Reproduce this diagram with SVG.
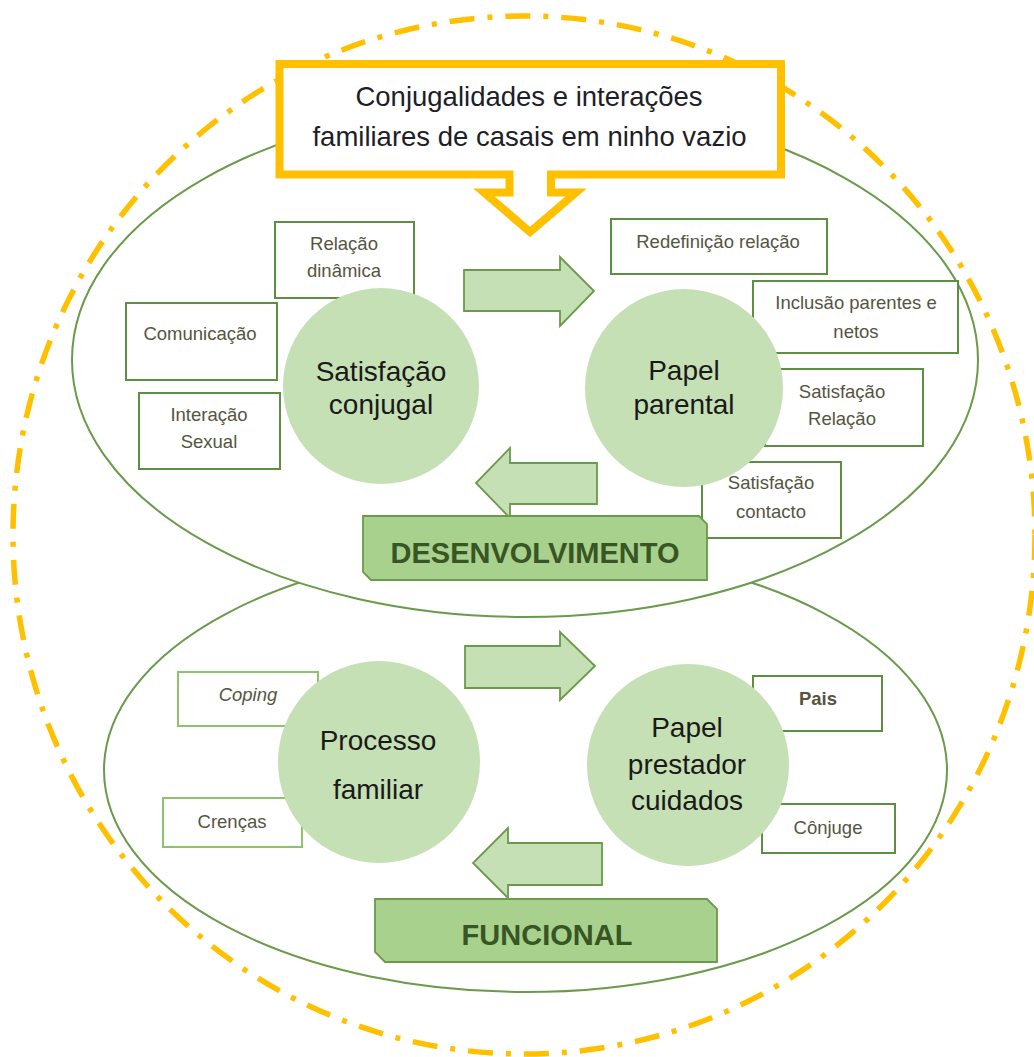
<svg xmlns="http://www.w3.org/2000/svg" width="1034" height="1057" viewBox="0 0 1034 1057">
  <style>
    .outer { fill: none; stroke: #FFC000; stroke-width: 5.5; stroke-dasharray: 25 13 5 13; }
    .ell { fill: #FFFFFF; stroke: #6A9A4A; stroke-width: 2; }
    .callout { fill: #FFFFFF; stroke: #FFC000; stroke-width: 8; stroke-linejoin: miter; }
    .title { font-family: "Liberation Sans", Arial, sans-serif; font-size: 27.5px; fill: #1E1E28; text-anchor: middle; }
    .box { fill: #FFFFFF; stroke: #5E8E42; stroke-width: 2; }
    .box2 { fill: #FFFFFF; stroke: #8CC36C; stroke-width: 2; }
    .lbl { font-family: "Liberation Sans", Arial, sans-serif; font-size: 18.5px; fill: #55553F; text-anchor: middle; }
    .circ { fill: #C5E0B4; stroke: none; }
    .ctext { font-family: "Liberation Sans", Arial, sans-serif; font-size: 28px; fill: #1A1A1A; text-anchor: middle; }
    .arrow { fill: #C5E0B4; stroke: #6A9A4A; stroke-width: 1.8; stroke-linejoin: miter; }
    .tag { fill: #A9D18E; stroke: #6A9A4A; stroke-width: 1.8; }
    .tagtext { font-family: "Liberation Sans", Arial, sans-serif; font-size: 29px; font-weight: bold; fill: #375623; text-anchor: middle; }
  </style>

  <g id="frame">
    <ellipse class="outer" cx="524" cy="535" rx="511" ry="519"/>
    <ellipse id="ellipse-funcional" class="ell" cx="525.5" cy="770" rx="421.5" ry="222"/>
    <ellipse id="ellipse-desenvolvimento" class="ell" cx="525" cy="360" rx="453" ry="257"/>
  </g>

  <g id="title">
    <path class="callout" d="M279.5,64 H781 V174.5 H551 V192.5 H576 L530,232 L484,192.5 H509.5 V174.5 H279.5 Z"/>
    <text class="title" x="529" y="106">Conjugalidades e interações</text>
    <text class="title" x="529.5" y="146">familiares de casais em ninho vazio</text>
  </g>

  <g id="box-relacao-dinamica">
    <rect class="box" x="275" y="222" width="139" height="76"/>
    <text class="lbl" x="344" y="250">Relação</text>
    <text class="lbl" x="344" y="277">dinâmica</text>
  </g>
  <g id="box-comunicacao">
    <rect class="box" x="126" y="303" width="151" height="77"/>
    <text class="lbl" x="200" y="340">Comunicação</text>
  </g>
  <g id="box-interacao-sexual">
    <rect class="box" x="139" y="393" width="141" height="76"/>
    <text class="lbl" x="209" y="421">Interação</text>
    <text class="lbl" x="209" y="448">Sexual</text>
  </g>
  <g id="box-redefinicao">
    <rect class="box" x="611" y="219" width="216" height="55"/>
    <text class="lbl" x="718" y="248">Redefinição relação</text>
  </g>
  <g id="box-inclusao">
    <rect class="box" x="753" y="281" width="205" height="72"/>
    <text class="lbl" x="856" y="309">Inclusão parentes e</text>
    <text class="lbl" x="856" y="338">netos</text>
  </g>
  <g id="box-satisfacao-relacao">
    <rect class="box" x="765" y="369" width="158" height="77"/>
    <text class="lbl" x="842" y="398">Satisfação</text>
    <text class="lbl" x="842" y="425">Relação</text>
  </g>
  <g id="box-satisfacao-contacto">
    <rect class="box" x="702" y="462" width="139" height="76"/>
    <text class="lbl" x="771" y="489">Satisfação</text>
    <text class="lbl" x="771" y="518">contacto</text>
  </g>
  <g id="box-coping">
    <rect class="box2" x="178" y="672" width="140" height="54"/>
    <text class="lbl" x="248" y="701" font-style="italic">Coping</text>
  </g>
  <g id="box-crencas">
    <rect class="box2" x="163" y="798" width="139" height="49"/>
    <text class="lbl" x="232" y="828">Crenças</text>
  </g>
  <g id="box-pais">
    <rect class="box" x="753" y="676" width="129" height="55"/>
    <text class="lbl" x="818" y="705" font-weight="bold">Pais</text>
  </g>
  <g id="box-conjuge">
    <rect class="box" x="762" y="804" width="133" height="49"/>
    <text class="lbl" x="828" y="834">Cônjuge</text>
  </g>

  <g id="node-satisfacao-conjugal">
    <circle class="circ" cx="381" cy="386" r="98"/>
    <text class="ctext" x="381" y="381">Satisfação</text>
    <text class="ctext" x="381" y="414">conjugal</text>
  </g>
  <g id="node-papel-parental">
    <circle class="circ" cx="684" cy="388" r="99"/>
    <text class="ctext" x="684" y="380">Papel</text>
    <text class="ctext" x="684" y="414">parental</text>
  </g>
  <g id="node-processo-familiar">
    <circle class="circ" cx="379" cy="762" r="101"/>
    <text class="ctext" x="378" y="750">Processo</text>
    <text class="ctext" x="378" y="799">familiar</text>
  </g>
  <g id="node-papel-prestador">
    <circle class="circ" cx="688" cy="765" r="101"/>
    <text class="ctext" x="687" y="737">Papel</text>
    <text class="ctext" x="687" y="774">prestador</text>
    <text class="ctext" x="687" y="810">cuidados</text>
  </g>

  <g id="connectors">
    <path class="arrow" d="M464,270 H560 V257 L594,291 L560,326 V311 H464 Z"/>
    <path class="arrow" d="M597,463 H510 V448 L476,483 L510,518 V504 H597 Z"/>
    <path class="arrow" d="M465,646 H560 V632 L595,666 L560,700 V688 H465 Z"/>
    <path class="arrow" d="M602,843 H508 V828 L473,863 L508,898 V885 H602 Z"/>
  </g>

  <g id="label-desenvolvimento">
    <path class="tag" d="M363,516 H699 L707,524 V580 H371 L363,572 Z"/>
    <text class="tagtext" x="535" y="563">DESENVOLVIMENTO</text>
  </g>
  <g id="label-funcional">
    <path class="tag" d="M375,899 H707 L717,909 V962 H385 L375,952 Z"/>
    <text class="tagtext" x="547" y="945">FUNCIONAL</text>
  </g>
</svg>
